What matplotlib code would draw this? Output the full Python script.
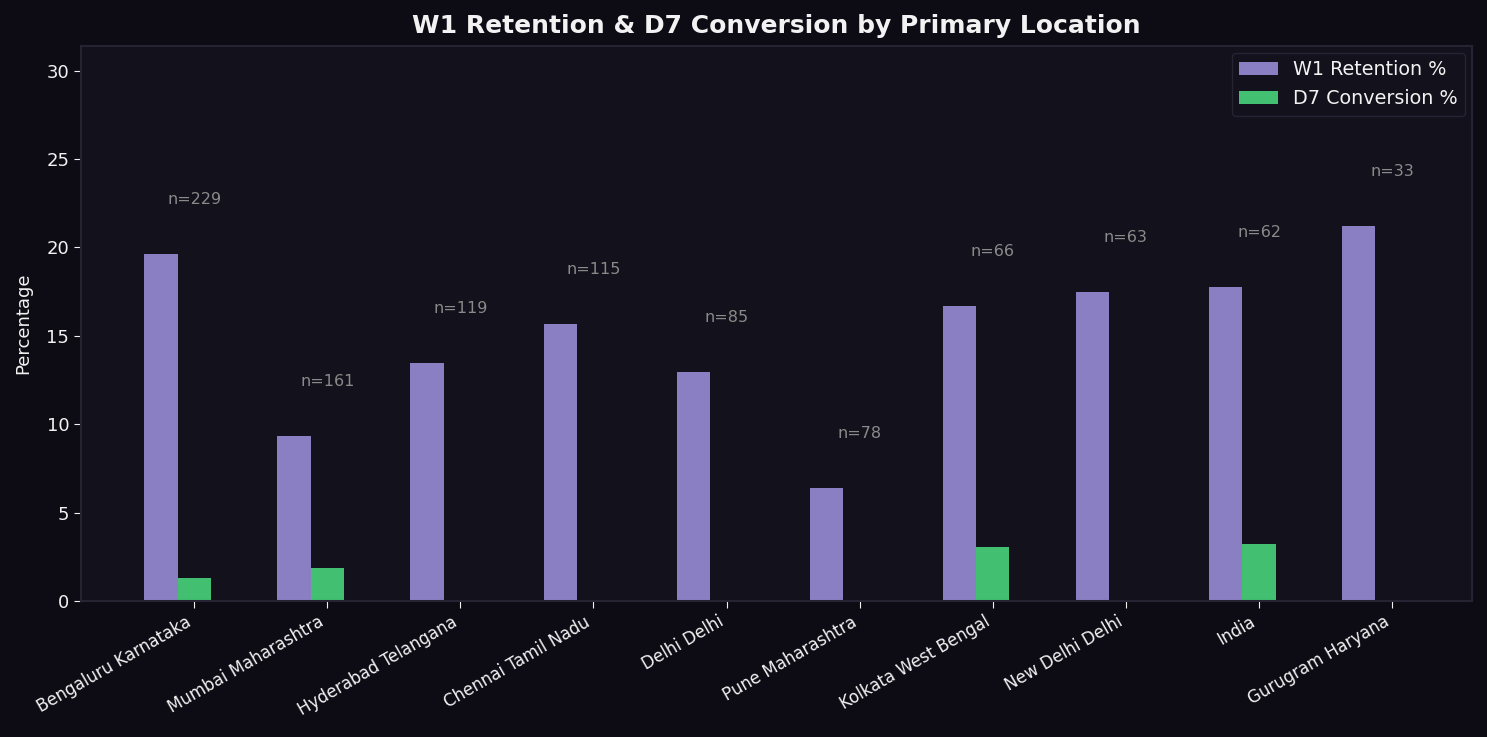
import matplotlib
matplotlib.use("Agg")
import matplotlib.pyplot as plt
import numpy as np

locations = ["Bengaluru Karnataka", "Mumbai Maharashtra", "Hyderabad Telangana",
             "Chennai Tamil Nadu", "Delhi Delhi", "Pune Maharashtra",
             "Kolkata West Bengal", "New Delhi Delhi", "India", "Gurugram Haryana"]
w1_retention = [19.65, 9.32, 13.45, 15.65, 12.94, 6.41, 16.67, 17.46, 17.74, 21.21]
d7_conversion = [1.31, 1.86, 0.0, 0.0, 0.0, 0.0, 3.03, 0.0, 3.23, 0.0]
n_users = [229, 161, 119, 115, 85, 78, 66, 63, 62, 33]

FIG_BG = "#0d0b14"
AX_BG = "#12111c"
SPINE = "#262433"
TEXT = "#f2f2f2"
PURPLE = "#8b7fc3"
GREEN = "#42bf70"

fig = plt.figure(figsize=(14.87, 7.37), dpi=100, facecolor=FIG_BG)
ax = fig.add_axes([81/1487, 1-601/737, (1472-81)/1487, (601-46)/737])
ax.set_facecolor(AX_BG)

x = np.arange(len(locations))
w = 0.25
ax.bar(x - w, w1_retention, w, color=PURPLE, label="W1 Retention %")
ax.bar(x, d7_conversion, w, color=GREEN, label="D7 Conversion %")

for xi, v, n in zip(x, w1_retention, n_users):
    ax.text(xi, v + 2.65, f"n={n}", ha="center", va="bottom", color="#8a8a8a", fontsize=11.5)

ax.set_ylim(0, max(w1_retention) * 1.48)
ax.set_xticks(x)
ax.set_xticklabels(locations, rotation=30, ha="right", fontsize=12, color=TEXT)
ax.tick_params(axis="y", colors=TEXT, labelsize=13, length=5)
ax.tick_params(axis="x", colors=TEXT, length=5)
for s in ax.spines.values():
    s.set_color(SPINE)
    s.set_linewidth(1.5)

ax.set_ylabel("Percentage", color=TEXT, fontsize=13, labelpad=10)
ax.set_title("W1 Retention & D7 Conversion by Primary Location", color=TEXT,
             fontsize=18, fontweight="bold", pad=9)

leg = ax.legend(loc="upper right", fontsize=13.8, facecolor=AX_BG, edgecolor=SPINE,
                framealpha=1, labelcolor=TEXT, borderaxespad=0.35)

fig.savefig("out.png", dpi=100, facecolor=FIG_BG)
